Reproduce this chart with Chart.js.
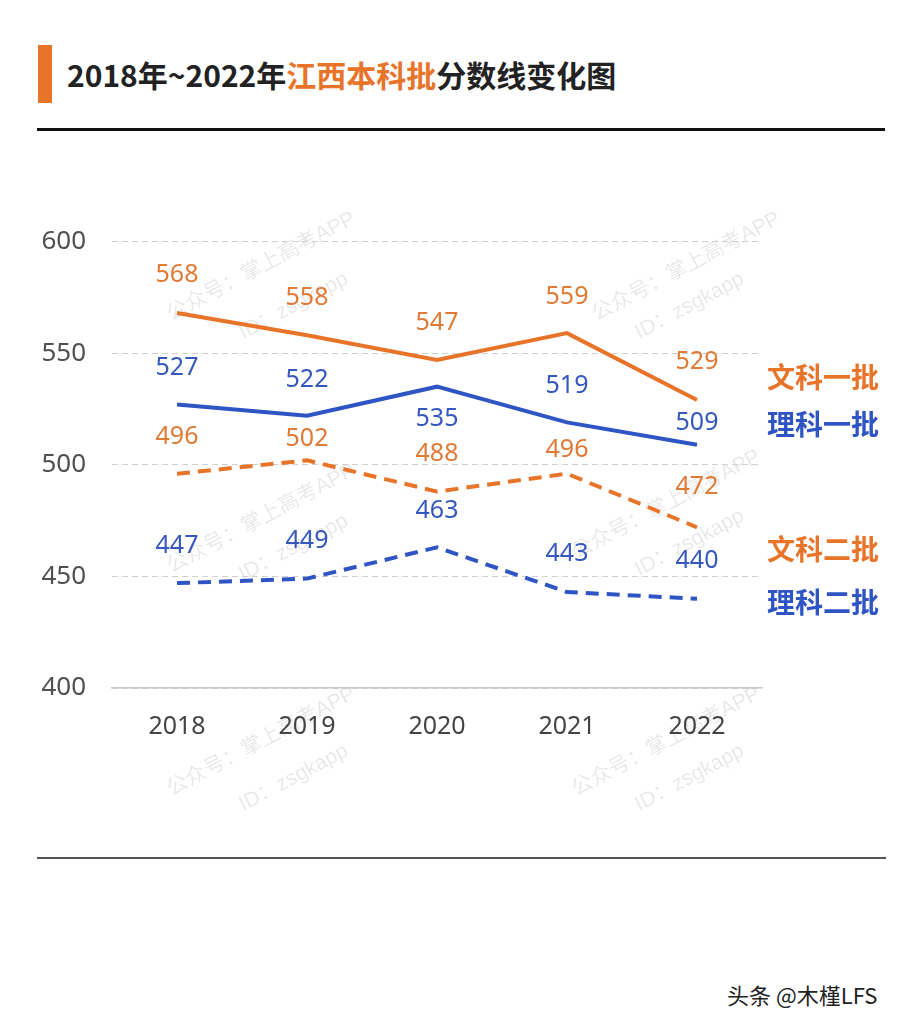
<!DOCTYPE html>
<html>
<head>
<meta charset="utf-8">
<script src="https://cdn.jsdelivr.net/npm/chart.js@4.4.0/dist/chart.umd.min.js"></script>
<style>
  body { margin: 0; background: #fff; font-family: "Noto Sans CJK SC", "Noto Sans", sans-serif; }
  #page { position: relative; width: 918px; height: 1024px; overflow: hidden; }
  .bar { position: absolute; left: 38px; top: 45px; width: 14px; height: 58px; background: #E8742A; }
  .title { position: absolute; left: 67px; top: 54px; font-size: 30px; font-weight: bold; color: #222; white-space: nowrap; line-height: 40px; }
  .title span { color: #E8742A; }
  .rule { position: absolute; left: 37px; top: 128px; width: 848px; height: 3px; background: #111; }
  .rule2 { position: absolute; left: 37px; top: 857px; width: 849px; height: 2px; background: #555; }
  .tag { position: absolute; left: 767px; font-size: 28px; font-weight: bold; white-space: nowrap; line-height: 34px; }
  .orange { color: #E8742A; }
  .blue { color: #2F55C4; }
  .credit { position: absolute; left: 727px; top: 978px; font-size: 22px; color: #222; white-space: nowrap; }
  .wm { position: absolute; font-size: 21px; color: rgba(0,0,0,0.10); transform: rotate(-28deg); transform-origin: left top; white-space: nowrap; font-family: "Liberation Sans", "Noto Sans CJK SC", sans-serif; }
  #wrap { position: absolute; left: 20px; top: 200px; width: 760px; height: 558px; }
</style>
</head>
<body>
<div id="page">
  <div class="bar"></div>
  <div class="title">2018年~2022年<span>江西本科批</span>分数线变化图</div>
  <div class="rule"></div>

  <div class="wm" style="left:160px;top:300px">公众号：掌上高考APP</div>
  <div class="wm" style="left:232px;top:318px">ID：zsgkapp</div>
  <div class="wm" style="left:585px;top:300px">公众号：掌上高考APP</div>
  <div class="wm" style="left:628px;top:318px">ID：zsgkapp</div>
  <div class="wm" style="left:160px;top:552px">公众号：掌上高考APP</div>
  <div class="wm" style="left:232px;top:560px">ID：zsgkapp</div>
  <div class="wm" style="left:565px;top:538px">公众号：掌上高考APP</div>
  <div class="wm" style="left:628px;top:555px">ID：zsgkapp</div>
  <div class="wm" style="left:160px;top:775px">公众号：掌上高考APP</div>
  <div class="wm" style="left:232px;top:790px">ID：zsgkapp</div>
  <div class="wm" style="left:565px;top:775px">公众号：掌上高考APP</div>
  <div class="wm" style="left:628px;top:790px">ID：zsgkapp</div>

  <div id="wrap"><canvas id="chart"></canvas></div>

  <div class="tag orange" style="top:359px">文科一批</div>
  <div class="tag blue" style="top:406px">理科一批</div>
  <div class="tag orange" style="top:531px">文科二批</div>
  <div class="tag blue" style="top:584px">理科二批</div>

  <div class="rule2"></div>
  <div class="credit">头条 @木槿LFS</div>
</div>

<script>
// Data
const years = ['2018', '2019', '2020', '2021', '2022'];
const wenke1 = [568, 558, 547, 559, 529];
const like1 = [527, 522, 535, 519, 509];
const wenke2 = [496, 502, 488, 496, 472];
const like2 = [447, 449, 463, 443, 440];
const yTicks = [400, 450, 500, 550, 600];

const ORANGE = '#E8742A';
const BLUE = '#2F55C4';

// Draw the value above (or below) each point
const valueLabels = {
  id: 'valueLabels',
  afterDatasetsDraw(chart) {
    const ctx = chart.ctx;
    ctx.save();
    ctx.font = '25px "Noto Sans", "Open Sans", sans-serif';
    ctx.textAlign = 'center';
    ctx.textBaseline = 'middle';
    chart.data.datasets.forEach((ds, i) => {
      const meta = chart.getDatasetMeta(i);
      ctx.fillStyle = ds.labelColor;
      meta.data.forEach((pt, j) => {
        const dy = ds.labelDy[j];
        ctx.fillText(ds.data[j], pt.x, pt.y + dy);
      });
    });
    ctx.restore();
  }
};

new Chart(document.getElementById('chart'), {
  type: 'line',
  data: {
    labels: years,
    datasets: [
      { label: '文科一批', data: wenke1, borderColor: ORANGE, labelColor: '#E07A35',
        labelDy: [-38, -37, -37, -36, -38] },
      { label: '理科一批', data: like1, borderColor: BLUE, labelColor: '#3558BE',
        labelDy: [-37, -36, 32, -37, -22] },
      { label: '文科二批', data: wenke2, borderColor: ORANGE, labelColor: '#E07A35', borderDash: [13, 8],
        labelDy: [-37, -21, -38, -24, -40] },
      { label: '理科二批', data: like2, borderColor: BLUE, labelColor: '#3558BE', borderDash: [13, 8],
        labelDy: [-37, -38, -37, -38, -38] }
    ].map(d => Object.assign({ borderWidth: 4, pointRadius: 0, tension: 0, fill: false }, d))
  },
  options: {
    responsive: true,
    maintainAspectRatio: false,
    animation: false,
    layout: { padding: { top: 20, right: 18, left: 0, bottom: 0 } },
    plugins: { legend: { display: false }, tooltip: { enabled: false } },
    scales: {
      x: {
        offset: true,
        grid: { display: false, drawTicks: false },
        border: { display: true, color: '#c8c8c8', width: 1.5 },
        ticks: { color: '#444', padding: 24, font: { size: 25, family: '"Noto Sans", "Open Sans", sans-serif' } },
        afterFit(s) { s.height = 70; }
      },
      y: {
        min: 400, max: 600,
        afterBuildTicks(s) { s.ticks = yTicks.map(v => ({ value: v })); },
        grid: { color: '#cfcfcf', lineWidth: 1, drawTicks: false },
        border: { display: false, dash: [6, 4] },
        ticks: { color: '#505050', padding: 26, align: 'center', font: { size: 26, family: '"Noto Sans", "Open Sans", sans-serif' } },
        afterFit(s) { s.width = 92; }
      }
    }
  },
  plugins: [valueLabels]
});
</script>
</body>
</html>
